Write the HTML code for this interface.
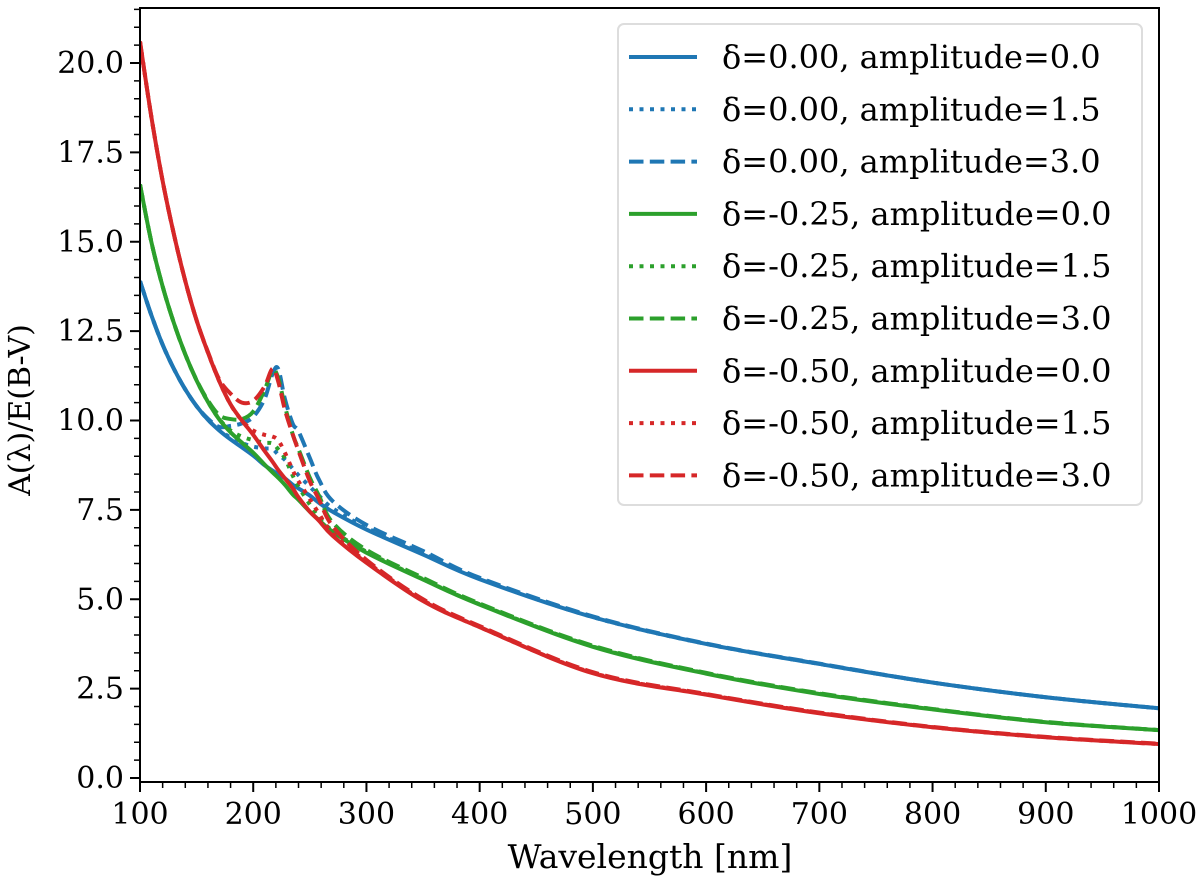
<!DOCTYPE html>
<html><head><meta charset="utf-8"><style>
html,body{margin:0;padding:0;background:#fff;}
svg{display:block;font-family:"DejaVu Serif","Liberation Serif",serif;}
</style></head><body>
<svg id="chart" width="1200" height="885" viewBox="0 0 1200 885" xmlns="http://www.w3.org/2000/svg">
<rect width="1200" height="885" fill="#fff"/>
<g id="plot"></g>
<g id="axes"></g>
<g id="legend"></g>
</svg>
<script>
const wavelengths = [100,110,120,130,140,150,160,170,180,190,200,210,217,222,228,235,240,250,258,270,300,350,400,500,600,700,800,900,1000];
const blueAmp0 = [13.9,12.95,12.12,11.44,10.87,10.4,10.02,9.72,9.47,9.25,9.02,8.75,8.6,8.5,8.38,8.2,8.1,7.9,7.7,7.45,6.95,6.25,5.56,4.5,3.75,3.19,2.67,2.26,1.95];
const blueAmp15 = [13.9,12.95,12.12,11.44,10.87,10.4,10.02,9.74,9.52,9.37,9.27,9.22,9.2,9.05,8.9,8.65,8.47,8.15,7.9,7.55,7.0,6.28,5.57,4.5,3.75,3.19,2.67,2.26,1.95];
const blueAmp30 = [13.9,12.95,12.12,11.44,10.87,10.4,10.05,9.82,9.85,9.92,10.1,10.6,11.3,11.45,10.6,9.9,9.7,8.95,8.35,7.75,7.08,6.35,5.6,4.52,3.76,3.2,2.67,2.26,1.95];
const greenAmp0 = [16.6,15.0,13.75,12.72,11.85,11.12,10.52,10.03,9.67,9.38,9.1,8.77,8.55,8.4,8.2,7.93,7.78,7.45,7.22,6.89,6.3,5.55,4.85,3.67,2.92,2.35,1.92,1.56,1.34];
const greenAmp15 = [16.6,15.0,13.75,12.72,11.85,11.12,10.52,10.04,9.72,9.55,9.45,9.38,9.36,9.2,8.94,8.45,8.15,7.65,7.3,6.92,6.33,5.56,4.86,3.68,2.93,2.36,1.93,1.56,1.34];
const greenAmp30 = [16.6,15.0,13.75,12.72,11.85,11.13,10.56,10.15,10.04,10.04,10.25,10.85,11.4,11.2,10.4,9.6,9.2,8.4,7.9,7.15,6.38,5.6,4.88,3.7,2.94,2.37,1.93,1.57,1.34];
const redAmp0 = [20.6,18.5,16.7,15.2,13.9,12.8,11.9,11.1,10.45,10.0,9.6,9.15,8.85,8.62,8.38,8.1,7.85,7.45,7.2,6.78,6.02,4.95,4.22,2.93,2.33,1.81,1.42,1.14,0.95];
const redAmp15 = [20.6,18.5,16.7,15.2,13.9,12.8,11.9,11.1,10.45,10.0,9.72,9.6,9.55,9.45,9.1,8.6,8.3,7.8,7.4,6.85,6.05,4.97,4.22,2.94,2.34,1.82,1.42,1.14,0.95];
const redAmp30 = [20.6,18.5,16.7,15.2,13.9,12.8,11.92,11.15,10.75,10.5,10.55,10.95,11.45,11.1,10.3,9.6,9.15,8.3,7.8,7.05,6.1,5.0,4.25,2.96,2.35,1.83,1.43,1.15,0.96];
const seriesLabels = ["δ=0.00, amplitude=0.0","δ=0.00, amplitude=1.5","δ=0.00, amplitude=3.0","δ=-0.25, amplitude=0.0","δ=-0.25, amplitude=1.5","δ=-0.25, amplitude=3.0","δ=-0.50, amplitude=0.0","δ=-0.50, amplitude=1.5","δ=-0.50, amplitude=3.0"];
const xTicks = [100,200,300,400,500,600,700,800,900,1000];
const yTicks = [0,2.5,5,7.5,10,12.5,15,17.5,20];
const yTickLabels = ["0.0","2.5","5.0","7.5","10.0","12.5","15.0","17.5","20.0"];

const NS="http://www.w3.org/2000/svg";
const L=140,R=1159,T=8,B=782;
const X0=100,X1=1000,Ypx0=778,Ypu=35.75;
function xs(w){return L+(w-X0)*(R-L)/(X1-X0);}
function ys(v){return Ypx0-v*Ypu;}
function mk(tag,attrs,parent){const e=document.createElementNS(NS,tag);for(const k in attrs)e.setAttribute(k,attrs[k]);parent.appendChild(e);return e;}
function pathFor(xsArr,ysArr){
  const p=xsArr.map((w,i)=>[xs(w),ys(ysArr[i])]);
  let d="M"+p[0][0].toFixed(2)+","+p[0][1].toFixed(2);
  for(let i=0;i<p.length-1;i++){
    const p0=p[Math.max(0,i-1)],p1=p[i],p2=p[i+1],p3=p[Math.min(p.length-1,i+2)];
    const c1x=p1[0]+(p2[0]-p0[0])/6,c1y=p1[1]+(p2[1]-p0[1])/6;
    const c2x=p2[0]-(p3[0]-p1[0])/6,c2y=p2[1]-(p3[1]-p1[1])/6;
    d+=" C"+c1x.toFixed(2)+","+c1y.toFixed(2)+" "+c2x.toFixed(2)+","+c2y.toFixed(2)+" "+p2[0].toFixed(2)+","+p2[1].toFixed(2);
  }
  return d;
}
const plot=document.getElementById('plot');
const axes=document.getElementById('axes');
const legend=document.getElementById('legend');
const cp=mk('clipPath',{id:'clip'},plot);
mk('rect',{x:L,y:T,width:R-L,height:B-T},cp);
const colors=["#1f77b4","#2ca02c","#d62728"];
const dashes=["none","4,6.5","14.5,6.3"];
const seriesData=[blueAmp0,blueAmp15,blueAmp30,greenAmp0,greenAmp15,greenAmp30,redAmp0,redAmp15,redAmp30];
const seriesNames=["blue-amp0","blue-amp15","blue-amp30","green-amp0","green-amp15","green-amp30","red-amp0","red-amp15","red-amp30"];
seriesData.forEach((vals,i)=>{
  const path=mk('path',{d:pathFor(wavelengths,vals),fill:'none',stroke:colors[Math.floor(i/3)],'stroke-width':4,'stroke-dasharray':dashes[i%3],'clip-path':'url(#clip)'},plot);
  
  
});
const frame=mk('rect',{x:L,y:T,width:R-L,height:B-T,fill:'none',stroke:'#000','stroke-width':2},axes);


for(let w=100;w<=1000;w+=20){
  const major=(w%100===0);
  mk('line',{x1:xs(w),x2:xs(w),y1:B,y2:B+(major?10:6),stroke:'#000','stroke-width':major?2:1.5},axes);
}
xTicks.forEach(w=>{
  const t=mk('text',{x:xs(w),y:B+42,'text-anchor':'middle','font-size':30,fill:'#000'},axes);
  t.textContent=String(w);
  
  
});
for(let k=0;k<=43;k++){
  const v=k*0.5; const major=(k%5===0);
  mk('line',{x1:L,x2:L-(major?10:6),y1:ys(v),y2:ys(v),stroke:'#000','stroke-width':major?2:1.5},axes);
}
yTicks.forEach((v,i)=>{
  const t=mk('text',{x:L-16,y:ys(v)+10,'text-anchor':'end','font-size':30,fill:'#000'},axes);
  t.textContent=yTickLabels[i];
  
  
});
const xt=mk('text',{x:650,y:868,'text-anchor':'middle','font-size':33,fill:'#000'},axes);
xt.textContent="Wavelength [nm]";


const yt=mk('text',{x:0,y:0,'text-anchor':'middle','font-size':30,fill:'#000',transform:'translate(30,410) rotate(-90)'},axes);
yt.textContent="A(λ)/E(B-V)";


const lb=mk('rect',{x:618,y:24,width:524,height:481,rx:6,fill:'#fff','fill-opacity':0.85,stroke:'#ddd','stroke-width':2},legend);


seriesLabels.forEach((lab,i)=>{
  const cy=57+i*52.3;
  const g=mk('g',{},legend);
  
  
  mk('line',{x1:629,x2:697,y1:cy,y2:cy,stroke:colors[Math.floor(i/3)],'stroke-width':4,'stroke-dasharray':dashes[i%3]},g);
  const t=mk('text',{x:722,y:cy+11,'font-size':32,fill:'#000'},g);
  t.textContent=lab;
});
</script>
</body></html>
